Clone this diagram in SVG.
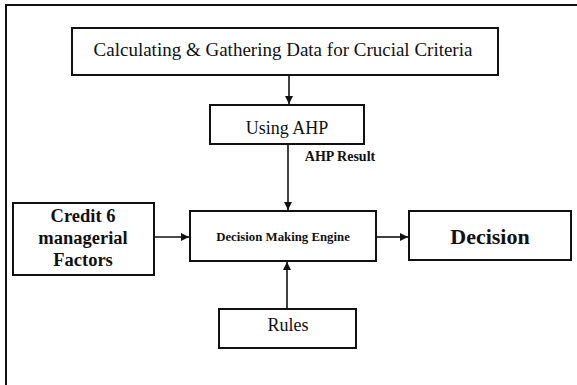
<svg xmlns="http://www.w3.org/2000/svg" width="577" height="385" viewBox="0 0 577 385">
  <style>
    .box { fill: #ffffff; stroke: #111111; stroke-width: 2; }
    .frame { fill: none; stroke: #111111; stroke-width: 2; }
    .link { fill: none; stroke: #111111; stroke-width: 1.6; }
    text { font-family: 'Liberation Serif', 'DejaVu Serif', serif; fill: #111111; text-anchor: middle; }
    .b { font-weight: bold; }
  </style>
  <defs>
    <marker id="arrow" viewBox="0 0 10 10" refX="10" refY="5" markerWidth="5" markerHeight="5" markerUnits="strokeWidth" orient="auto">
      <path d="M0,0 L10,5 L0,10 Z" fill="#111111"/>
    </marker>
  </defs>

  <rect width="577" height="385" fill="#ffffff"/>

  <!-- open outer frame: left and top edges only -->
  <polyline class="frame" points="6,385 6,5 577,5"/>

  <g id="gather">
    <rect class="box" x="72" y="28" width="426" height="47"/>
    <text x="283" y="56" font-size="19" font-family="Liberation Serif">Calculating &amp; Gathering Data for Crucial Criteria</text>
  </g>

  <g id="ahp">
    <rect class="box" x="210" y="105" width="154" height="39"/>
    <text x="287" y="134" font-size="18" font-family="Liberation Serif">Using AHP</text>
  </g>

  <g id="credit">
    <rect class="box" x="13" y="203" width="141" height="72"/>
    <text class="b" x="83" y="222" font-size="18.5" font-family="Liberation Serif">Credit 6</text>
    <text class="b" x="83" y="244" font-size="18.5" font-family="Liberation Serif">managerial</text>
    <text class="b" x="83" y="266" font-size="18.5" font-family="Liberation Serif">Factors</text>
  </g>

  <g id="engine">
    <rect class="box" x="190" y="211" width="186" height="50"/>
    <text class="b" x="283" y="241" font-size="12.8" font-family="Liberation Serif">Decision Making Engine</text>
  </g>

  <g id="decision">
    <rect class="box" x="409" y="211" width="162" height="49"/>
    <text class="b" x="490" y="244" font-size="22" font-family="Liberation Serif">Decision</text>
  </g>

  <g id="rules">
    <rect class="box" x="219" y="309" width="137" height="39"/>
    <text x="288" y="331" font-size="18" font-family="Liberation Serif">Rules</text>
  </g>

  <g id="connectors">
    <line class="link" x1="289" y1="75" x2="289" y2="104" marker-end="url(#arrow)"/>
    <line class="link" x1="288" y1="144" x2="288" y2="210" marker-end="url(#arrow)"/>
    <text class="b" x="340" y="161" font-size="14" font-family="Liberation Serif">AHP Result</text>
    <line class="link" x1="154" y1="237" x2="189" y2="237" marker-end="url(#arrow)"/>
    <line class="link" x1="376" y1="237" x2="408" y2="237" marker-end="url(#arrow)"/>
    <line class="link" x1="287" y1="309" x2="287" y2="262" marker-end="url(#arrow)"/>
  </g>
</svg>
